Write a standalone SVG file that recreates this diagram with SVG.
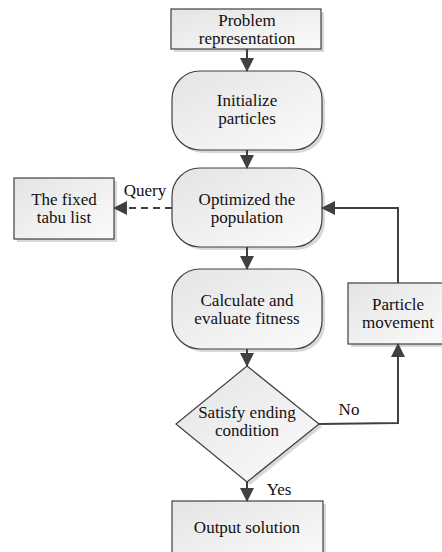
<svg xmlns="http://www.w3.org/2000/svg" width="442" height="552" viewBox="0 0 442 552">
<defs>
<linearGradient id="g" x1="0" y1="0" x2="1" y2="1">
<stop offset="0" stop-color="#e4e4e4"/>
<stop offset="1" stop-color="#fbfbfb"/>
</linearGradient>
<marker id="ah" viewBox="0 0 14 14" markerWidth="14" markerHeight="14" refX="13" refY="7" orient="auto" markerUnits="userSpaceOnUse">
<path d="M0,0 L14,7 L0,14 Z" fill="#404040"/>
</marker>
</defs>
<style>
.n{fill:url(#g);stroke:#404040;stroke-width:1.2}
.s{fill:#c8c8c8;opacity:0.7}
.t{font-family:"Liberation Serif","Times New Roman",serif;font-size:17px;fill:#111;text-anchor:middle}
.c{fill:none;stroke:#404040;stroke-width:2}
</style>
<rect width="442" height="552" fill="#fff"/>
<g id="problem">
<rect class="s" x="174" y="12" width="150" height="40"/>
<rect class="n" x="171" y="9" width="150" height="40"/>
<text class="t" x="247" y="25.5">Problem</text>
<text class="t" x="247" y="43.5">representation</text>
</g>
<g id="init">
<rect class="s" x="175" y="74" width="150" height="79" rx="28" ry="28"/>
<rect class="n" x="172" y="71" width="150" height="79" rx="28" ry="28"/>
<text class="t" x="247" y="106">Initialize</text>
<text class="t" x="247" y="124">particles</text>
</g>
<g id="optimize">
<rect class="s" x="175" y="171" width="150" height="79" rx="28" ry="28"/>
<rect class="n" x="172" y="168" width="150" height="79" rx="28" ry="28"/>
<text class="t" x="247" y="204.5">Optimized the</text>
<text class="t" x="247" y="222.5">population</text>
</g>
<g id="tabu">
<rect class="s" x="17" y="181" width="100" height="61"/>
<rect class="n" x="14" y="178" width="100" height="61"/>
<text class="t" x="64" y="204.5">The fixed</text>
<text class="t" x="64" y="222.5">tabu list</text>
</g>
<g id="calc">
<rect class="s" x="175" y="272" width="150" height="80" rx="28" ry="28"/>
<rect class="n" x="172" y="269" width="150" height="80" rx="28" ry="28"/>
<text class="t" x="247" y="305.5">Calculate and</text>
<text class="t" x="247" y="323.5">evaluate fitness</text>
</g>
<g id="particle">
<rect class="s" x="351" y="286" width="100" height="61"/>
<rect class="n" x="348" y="283" width="100" height="61"/>
<text class="t" x="398" y="309.5">Particle</text>
<text class="t" x="398" y="327.5">movement</text>
</g>
<g id="decision">
<polygon class="s" points="250,369 322,427 250,485 179,427"/>
<polygon class="n" points="247,366 319,424 247,482 176,424"/>
<text class="t" x="247" y="418">Satisfy ending</text>
<text class="t" x="247" y="436">condition</text>
</g>
<g id="output">
<rect class="s" x="175" y="504" width="151" height="60"/>
<rect class="n" x="172" y="501" width="151" height="60"/>
<text class="t" x="247" y="533">Output solution</text>
</g>
<g id="connectors">
<line class="c" x1="247" y1="49" x2="247" y2="71" marker-end="url(#ah)"/>
<line class="c" x1="247" y1="150" x2="247" y2="168" marker-end="url(#ah)"/>
<line class="c" x1="247" y1="247" x2="247" y2="269" marker-end="url(#ah)"/>
<line class="c" x1="247" y1="349" x2="247" y2="366" marker-end="url(#ah)"/>
<line class="c" x1="247" y1="482" x2="247" y2="501" marker-end="url(#ah)"/>
<line class="c" x1="172" y1="208" x2="114" y2="208" stroke-dasharray="7,5" marker-end="url(#ah)"/>
<polyline class="c" points="398,283 398,208 322,208" marker-end="url(#ah)"/>
<polyline class="c" points="319,424 398,423 398,344" marker-end="url(#ah)"/>
<text class="t" x="145" y="196">Query</text>
<text class="t" x="349" y="415">No</text>
<text class="t" x="279" y="495">Yes</text>
</g>
</svg>
